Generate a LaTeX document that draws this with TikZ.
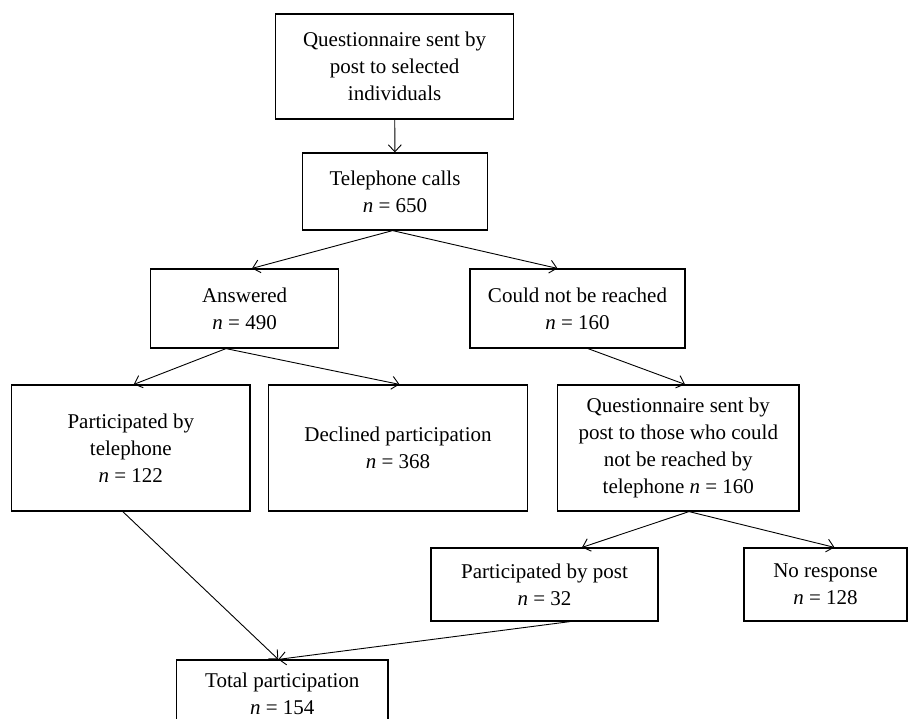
\documentclass[tikz,border=0pt]{standalone}
\usepackage{fontspec}
\setmainfont{Liberation Serif}
\usetikzlibrary{arrows.meta, positioning}
\tikzset{
    stage/.style={rectangle, draw=black, line width=1.2pt, fill=white, align=center, inner sep=2pt, font=\fontsize{21}{27}\selectfont},
    arrow/.style={-{Straight Barb[length=7pt, width=13pt]}, line width=0.9pt}
}
\newcommand{\nval}[1]{\textit{n} = #1}

\begin{document}
\begin{tikzpicture}[x=1pt, y=-1pt]
        \clip (0,0) rectangle (908,719);
        % Mailing and calls
        \node[stage, minimum width=238pt, minimum height=105pt] (QuestPost) at (394.6,66.5) {Questionnaire sent by\\post to selected\\individuals};
        \node[stage, minimum width=184.5pt, minimum height=77pt] (Calls) at (395,191.5) {Telephone calls\\\nval{650}};
        
        % Outcome of calls
        \node[stage, minimum width=188pt, minimum height=79pt] (Answered) at (244.6,308.5) {Answered\\\nval{490}};
        \node[stage, minimum width=215pt, minimum height=79pt] (NotReached) at (577.5,308.5) {Could not be reached\\\nval{160}};
        
        % Second level
        \node[stage, minimum width=238.4pt, minimum height=126pt] (PartPhone) at (130.8,448) {Participated by\\telephone\\\nval{122}};
        \node[stage, minimum width=258.5pt, minimum height=126pt] (Declined) at (398,448) {Declined participation\\\nval{368}};
        \node[stage, minimum width=241.4pt, minimum height=126pt] (QuestResend) at (678.3,448) {Questionnaire sent by\\post to those who could\\not be reached by\\telephone \nval{160}};
        
        % Postal outcome
        \node[stage, minimum width=227pt, minimum height=73pt] (PartPost) at (544.5,584.5) {Participated by post\\\nval{32}};
        \node[stage, minimum width=163pt, minimum height=73pt] (NoResp) at (825.5,584.5) {No response\\\nval{128}};
        
        % Output
        \node[stage, minimum width=211.4pt, minimum height=67pt] (Total) at (282.3,693.5) {Total participation\\\nval{154}};
        
        % Connections
        \draw[arrow] (QuestPost) -- (Calls);
        \draw[arrow] ([xshift=-2.4pt]Calls.south) -- ([xshift=7.4pt]Answered.north);
        \draw[arrow] ([xshift=-2.4pt]Calls.south) -- ([xshift=-20pt]NotReached.north);
        
        \draw[arrow] ([xshift=-18.6pt]Answered.south) -- ([xshift=3pt]PartPhone.north);
        \draw[arrow] ([xshift=-18.6pt]Answered.south) -- ([xshift=1.5pt]Declined.north);
        \draw[arrow] ([xshift=10.5pt]NotReached.south) -- ([xshift=6.7pt]QuestResend.north);
        
        \draw[arrow] ([xshift=10.7pt]QuestResend.south) -- ([xshift=37.5pt]PartPost.north);
        \draw[arrow] ([xshift=10.7pt]QuestResend.south) -- ([xshift=9pt]NoResp.north);
        
        \draw[arrow] ([xshift=-8pt]PartPhone.south) -- ([xshift=-4pt]Total.north);
        \draw[arrow] ([xshift=25.5pt]PartPost.south) -- ([xshift=-4pt]Total.north);

    \end{tikzpicture}
\end{document}
